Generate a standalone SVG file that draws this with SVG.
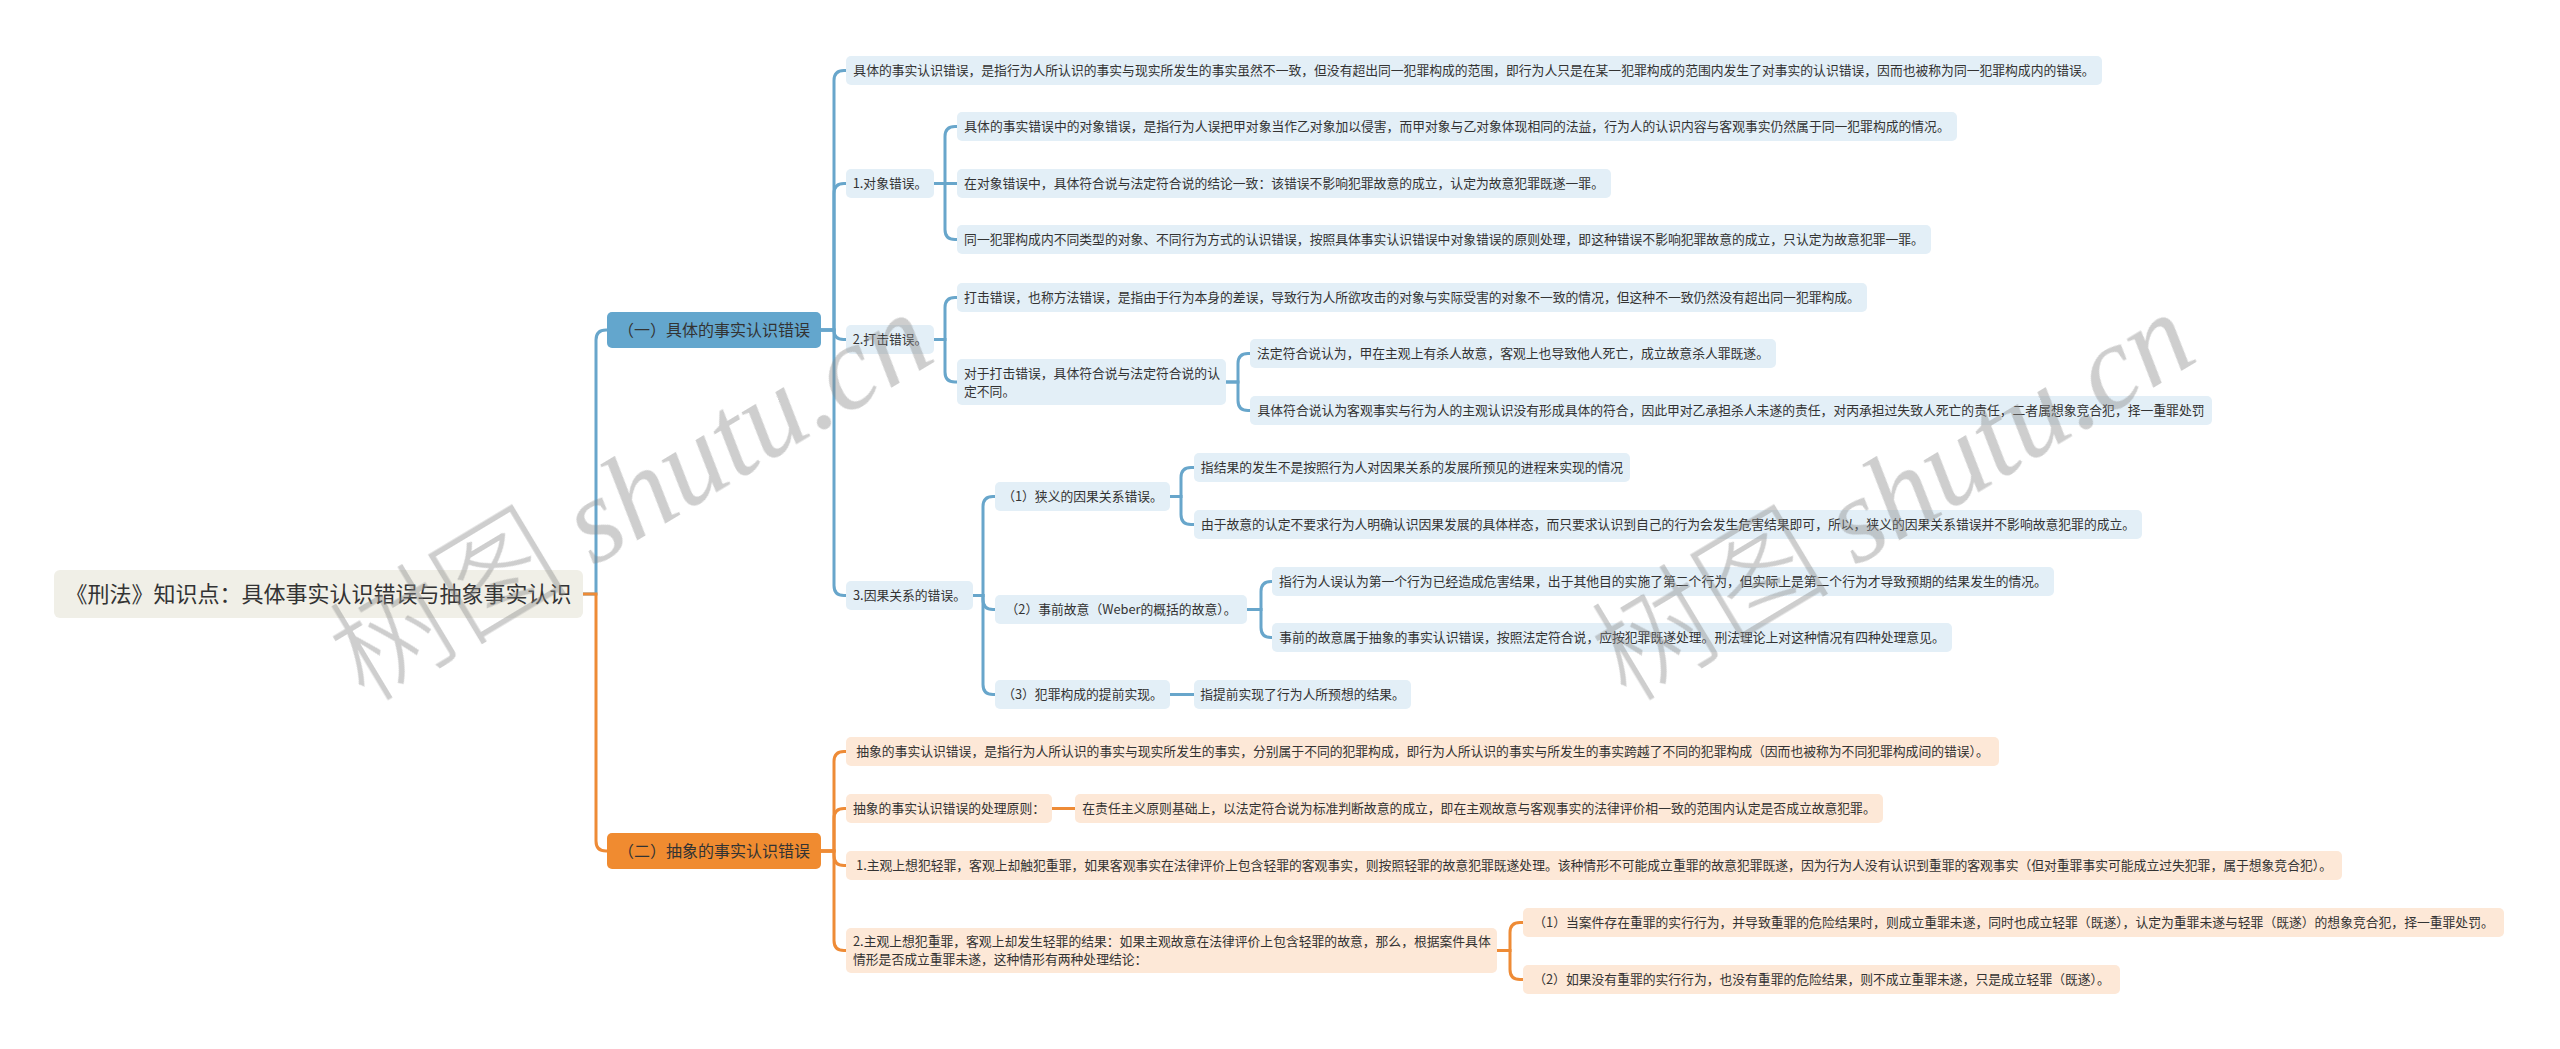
<svg xmlns="http://www.w3.org/2000/svg" width="2560" height="1049" viewBox="0 0 2560 1049">
<style>
text{font-family:"Noto Sans CJK SC","Microsoft YaHei",sans-serif;fill:#333;font-size:12.8px}
.m{text-anchor:middle}
.root rect{fill:#f0efe7}
.root text{font-size:22px}
.b1 rect{fill:#63a6cd}
.o1 rect{fill:#f08b30}
.b1 text,.o1 text{font-size:16px}
.bl rect{fill:#e3eff7}
.ol rect{fill:#fde8d7}
.cb{fill:none;stroke:#68a6cb;stroke-width:3}
.co{fill:none;stroke:#ee8b36;stroke-width:3}
.wm{font-size:120px;fill:#8a8a8a;font-weight:300}
</style>
<rect width="2560" height="1049" fill="#ffffff"/>
<g id="connectors">
<path class="cb" d="M583 594 H596 V340 Q596 330 606 330 H607"/>
<path class="cb" d="M821 330 H834 V80.5 Q834 70.5 844 70.5 H846"/>
<path class="cb" d="M821 330 H834 V193.5 Q834 183.5 844 183.5 H846"/>
<path class="cb" d="M821 330 H834 Q834 339.5 843.5 339.5 H846"/>
<path class="cb" d="M821 330 H834 V585.5 Q834 595.5 844 595.5 H846"/>
<path class="cb" d="M933 183.5 H945 V136.5 Q945 126.5 955 126.5 H957"/>
<path class="cb" d="M933 183.5 H957"/>
<path class="cb" d="M933 183.5 H945 V229.5 Q945 239.5 955 239.5 H957"/>
<path class="cb" d="M933 339.5 H945 V307.5 Q945 297.5 955 297.5 H957"/>
<path class="cb" d="M933 339.5 H945 V372 Q945 382 955 382 H957"/>
<path class="cb" d="M1226 382 H1238 V363.5 Q1238 353.5 1248 353.5 H1250"/>
<path class="cb" d="M1226 382 H1238 V400.5 Q1238 410.5 1248 410.5 H1250"/>
<path class="cb" d="M973 595.5 H983 V506.5 Q983 496.5 993 496.5 H995"/>
<path class="cb" d="M973 595.5 H983 V599.5 Q983 609.5 993 609.5 H995"/>
<path class="cb" d="M973 595.5 H983 V684.5 Q983 694.5 993 694.5 H995"/>
<path class="cb" d="M1170 496.5 H1181 V477.5 Q1181 467.5 1191 467.5 H1194"/>
<path class="cb" d="M1170 496.5 H1181 V514.5 Q1181 524.5 1191 524.5 H1194"/>
<path class="cb" d="M1247 609.5 H1261 V591.5 Q1261 581.5 1271 581.5 H1272"/>
<path class="cb" d="M1247 609.5 H1261 V627.5 Q1261 637.5 1271 637.5 H1272"/>
<path class="cb" d="M1170 694.5 H1194"/>
<path class="co" d="M583 594 H596 V841 Q596 851 606 851 H607"/>
<path class="co" d="M821 851 H834 V761.5 Q834 751.5 844 751.5 H846"/>
<path class="co" d="M821 851 H834 V818.5 Q834 808.5 844 808.5 H846"/>
<path class="co" d="M821 851 H834 V855.5 Q834 865.5 844 865.5 H846"/>
<path class="co" d="M821 851 H834 V940.5 Q834 950.5 844 950.5 H846"/>
<path class="co" d="M1052 808.5 H1075"/>
<path class="co" d="M1497 950.5 H1510 V932.5 Q1510 922.5 1520 922.5 H1523"/>
<path class="co" d="M1497 950.5 H1510 V969.5 Q1510 979.5 1520 979.5 H1523"/>
</g>
<g id="root" class="root"><rect x="54" y="570" width="529" height="48" rx="6"/><text class="m" x="318.5" y="602.4">《刑法》知识点：具体事实认识错误与抽象事实认识</text></g>
<g id="n1" class="b1"><rect x="607" y="312" width="214" height="36" rx="5"/><text class="m" x="714" y="336.1">（一）具体的事实认识错误</text></g>
<g id="n2" class="o1"><rect x="607" y="833" width="214" height="36" rx="5"/><text class="m" x="714" y="857.1">（二）抽象的事实认识错误</text></g>
<g id="a1" class="bl"><rect x="846" y="56" width="1256" height="29" rx="5"/><text class="m" x="1474" y="75.4">具体的事实认识错误，是指行为人所认识的事实与现实所发生的事实虽然不一致，但没有超出同一犯罪构成的范围，即行为人只是在某一犯罪构成的范围内发生了对事实的认识错误，因而也被称为同一犯罪构成内的错误。</text></g>
<g id="a2" class="bl"><rect x="846" y="169" width="88" height="29" rx="5"/><text class="m" x="890" y="188.4">1.对象错误。</text></g>
<g id="a2a" class="bl"><rect x="957" y="112" width="1000" height="29" rx="5"/><text class="m" x="1457" y="131.4">具体的事实错误中的对象错误，是指行为人误把甲对象当作乙对象加以侵害，而甲对象与乙对象体现相同的法益，行为人的认识内容与客观事实仍然属于同一犯罪构成的情况。</text></g>
<g id="a2b" class="bl"><rect x="957" y="169" width="654" height="29" rx="5"/><text class="m" x="1284" y="188.4">在对象错误中，具体符合说与法定符合说的结论一致：该错误不影响犯罪故意的成立，认定为故意犯罪既遂一罪。</text></g>
<g id="a2c" class="bl"><rect x="957" y="225" width="974" height="29" rx="5"/><text class="m" x="1444" y="244.4">同一犯罪构成内不同类型的对象、不同行为方式的认识错误，按照具体事实认识错误中对象错误的原则处理，即这种错误不影响犯罪故意的成立，只认定为故意犯罪一罪。</text></g>
<g id="a3" class="bl"><rect x="846" y="325" width="88" height="29" rx="5"/><text class="m" x="890" y="344.4">2.打击错误。</text></g>
<g id="a3a" class="bl"><rect x="957" y="283" width="910" height="29" rx="5"/><text class="m" x="1412" y="302.4">打击错误，也称方法错误，是指由于行为本身的差误，导致行为人所欲攻击的对象与实际受害的对象不一致的情况，但这种不一致仍然没有超出同一犯罪构成。</text></g>
<g id="a3b" class="bl"><rect x="957" y="359" width="269" height="46" rx="5"/><text x="964" y="377.9">对于打击错误，具体符合说与法定符合说的认</text><text x="964" y="395.9">定不同。</text></g>
<g id="a3b1" class="bl"><rect x="1250" y="339" width="526" height="29" rx="5"/><text class="m" x="1513" y="358.4">法定符合说认为，甲在主观上有杀人故意，客观上也导致他人死亡，成立故意杀人罪既遂。</text></g>
<g id="a3b2" class="bl"><rect x="1250" y="396" width="962" height="29" rx="5"/><text class="m" x="1731" y="415.4">具体符合说认为客观事实与行为人的主观认识没有形成具体的符合，因此甲对乙承担杀人未遂的责任，对丙承担过失致人死亡的责任，二者属想象竞合犯，择一重罪处罚</text></g>
<g id="a4" class="bl"><rect x="846" y="581" width="127" height="29" rx="5"/><text class="m" x="909.5" y="600.4">3.因果关系的错误。</text></g>
<g id="a4a" class="bl"><rect x="995" y="482" width="175" height="29" rx="5"/><text class="m" x="1082.5" y="501.4">（1）狭义的因果关系错误。</text></g>
<g id="a4a1" class="bl"><rect x="1194" y="453" width="436" height="29" rx="5"/><text class="m" x="1412" y="472.4">指结果的发生不是按照行为人对因果关系的发展所预见的进程来实现的情况</text></g>
<g id="a4a2" class="bl"><rect x="1194" y="510" width="948" height="29" rx="5"/><text class="m" x="1668" y="529.4">由于故意的认定不要求行为人明确认识因果发展的具体样态，而只要求认识到自己的行为会发生危害结果即可，所以，狭义的因果关系错误并不影响故意犯罪的成立。</text></g>
<g id="a4b" class="bl"><rect x="995" y="595" width="252" height="29" rx="5"/><text class="m" x="1121" y="614.4">（2）事前故意（Weber的概括的故意）。</text></g>
<g id="a4b1" class="bl"><rect x="1272" y="567" width="782" height="29" rx="5"/><text class="m" x="1663" y="586.4">指行为人误认为第一个行为已经造成危害结果，出于其他目的实施了第二个行为，但实际上是第二个行为才导致预期的结果发生的情况。</text></g>
<g id="a4b2" class="bl"><rect x="1272" y="623" width="680" height="29" rx="5"/><text class="m" x="1612" y="642.4">事前的故意属于抽象的事实认识错误，按照法定符合说，应按犯罪既遂处理。刑法理论上对这种情况有四种处理意见。</text></g>
<g id="a4c" class="bl"><rect x="995" y="680" width="175" height="29" rx="5"/><text class="m" x="1082.5" y="699.4">（3）犯罪构成的提前实现。</text></g>
<g id="a4c1" class="bl"><rect x="1194" y="680" width="217" height="29" rx="5"/><text class="m" x="1302.5" y="699.4">指提前实现了行为人所预想的结果。</text></g>
<g id="b1" class="ol"><rect x="846" y="737" width="1153" height="29" rx="5"/><text class="m" x="1422.5" y="756.4">抽象的事实认识错误，是指行为人所认识的事实与现实所发生的事实，分别属于不同的犯罪构成，即行为人所认识的事实与所发生的事实跨越了不同的犯罪构成（因而也被称为不同犯罪构成间的错误）。</text></g>
<g id="b2" class="ol"><rect x="846" y="794" width="206" height="29" rx="5"/><text class="m" x="949" y="813.4">抽象的事实认识错误的处理原则：</text></g>
<g id="b2a" class="ol"><rect x="1075" y="794" width="808" height="29" rx="5"/><text class="m" x="1479" y="813.4">在责任主义原则基础上，以法定符合说为标准判断故意的成立，即在主观故意与客观事实的法律评价相一致的范围内认定是否成立故意犯罪。</text></g>
<g id="b3" class="ol"><rect x="846" y="851" width="1496" height="29" rx="5"/><text class="m" x="1594" y="870.4">1.主观上想犯轻罪，客观上却触犯重罪，如果客观事实在法律评价上包含轻罪的客观事实，则按照轻罪的故意犯罪既遂处理。该种情形不可能成立重罪的故意犯罪既遂，因为行为人没有认识到重罪的客观事实（但对重罪事实可能成立过失犯罪，属于想象竞合犯）。</text></g>
<g id="b4" class="ol"><rect x="846" y="928" width="651" height="45" rx="5"/><text x="853" y="946.4">2.主观上想犯重罪，客观上却发生轻罪的结果：如果主观故意在法律评价上包含轻罪的故意，那么，根据案件具体</text><text x="853" y="964.4">情形是否成立重罪未遂，这种情形有两种处理结论：</text></g>
<g id="b4a" class="ol"><rect x="1523" y="908" width="981" height="29" rx="5"/><text class="m" x="2013.5" y="927.4">（1）当案件存在重罪的实行行为，并导致重罪的危险结果时，则成立重罪未遂，同时也成立轻罪（既遂），认定为重罪未遂与轻罪（既遂）的想象竞合犯，择一重罪处罚。</text></g>
<g id="b4b" class="ol"><rect x="1523" y="965" width="597" height="29" rx="5"/><text class="m" x="1821.5" y="984.4">（2）如果没有重罪的实行行为，也没有重罪的危险结果，则不成立重罪未遂，只是成立轻罪（既遂）。</text></g>
<g id="watermark" opacity="0.42">
<text class="wm" transform="translate(365,704) rotate(-31)">树图 <tspan font-family="Liberation Serif" font-style="italic" font-weight="400">shutu.cn</tspan></text>
<text class="wm" transform="translate(1627,704) rotate(-31)">树图 <tspan font-family="Liberation Serif" font-style="italic" font-weight="400">shutu.cn</tspan></text>
</g>
</svg>
